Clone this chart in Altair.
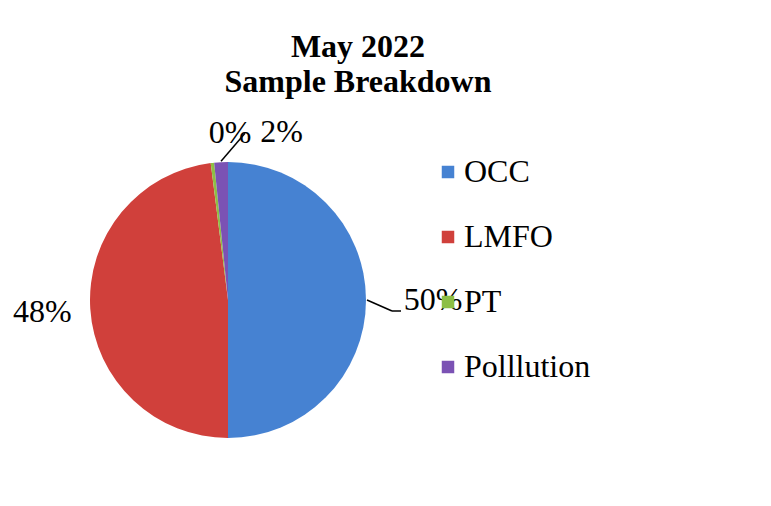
import altair as alt
import pandas as pd

categories = ["OCC", "LMFO", "PT", "Polllution"]
values = [50.0, 48.0, 0.4, 1.6]
colors = ["#4682d2", "#d0403b", "#8dbf45", "#7b52b4"]

df = pd.DataFrame({"category": categories, "value": values,
                   "idx": list(range(len(categories)))})

W = H = 300
R = 138
FONT = "Liberation Serif"

xs = alt.Scale(domain=[-W / 2, W / 2], range=[0, W])
ys = alt.Scale(domain=[-H / 2, H / 2], range=[H, 0])

base = alt.Chart(df).transform_joinaggregate(
    total="sum(value)"
).transform_window(
    cum="sum(value)", sort=[alt.SortField("idx")], frame=[None, 0]
).transform_calculate(
    mid="2*PI*(datum.cum - datum.value/2)/datum.total",
    pct="format(datum.value/datum.total, '.0%')",
)

pie = alt.Chart(df).mark_arc(outerRadius=R).encode(
    theta=alt.Theta("value:Q", stack=True),
    color=alt.Color(
        "category:N",
        scale=alt.Scale(domain=categories, range=colors),
        sort=categories,
        legend=alt.Legend(
            title=None, orient="none", legendX=354, legendY=6,
            symbolType="square", symbolSize=156, symbolStrokeWidth=0,
            labelFont=FONT, labelFontSize=32, labelColor="black",
            labelOffset=0, rowPadding=33, labelLimit=400,
        ),
    ),
    order=alt.Order("idx:Q"),
)

labels = base.transform_calculate(
    lr="datum.category=='OCC' ? 205 : datum.category=='LMFO' ? 186 : 168",
    ox="datum.category=='PT' ? 21 : datum.category=='Polllution' ? 62 : 0",
).transform_calculate(
    lx="datum.lr*sin(datum.mid) + datum.ox",
    ly="datum.lr*cos(datum.mid)",
).mark_text(font=FONT, fontSize=32, color="black", baseline="middle",
            align="center").encode(
    x=alt.X("lx:Q", scale=xs, axis=None),
    y=alt.Y("ly:Q", scale=ys, axis=None),
    text="pct:N",
)

lead1 = base.transform_filter(
    "datum.category=='OCC' || datum.category=='Polllution'"
).transform_calculate(
    x0=f"{R + 1}*sin(datum.mid)",
    y0=f"{R + 1}*cos(datum.mid)",
).transform_calculate(
    x1="datum.x0 + (datum.category=='OCC' ? 25 : 24)",
    y1="datum.y0 + (datum.category=='OCC' ? -11 : 28)",
).mark_rule(color="black", strokeWidth=1.5).encode(
    x=alt.X("x0:Q", scale=xs, axis=None),
    y=alt.Y("y0:Q", scale=ys, axis=None),
    x2="x1:Q",
    y2="y1:Q",
)

lead2 = base.transform_filter("datum.category=='OCC'").transform_calculate(
    x0=f"{R + 1}*sin(datum.mid) + 25",
    x1=f"{R + 1}*sin(datum.mid) + 34",
    y0=f"{R + 1}*cos(datum.mid) - 11",
).mark_rule(color="black", strokeWidth=1.5).encode(
    x=alt.X("x0:Q", scale=xs, axis=None),
    y=alt.Y("y0:Q", scale=ys, axis=None),
    x2="x1:Q",
)

chart = alt.layer(pie, lead1, lead2, labels).properties(
    width=W,
    height=H,
    background="white",
    title=alt.TitleParams(
        text=["May 2022", "Sample Breakdown"],
        font=FONT, fontSize=32, fontWeight="bold", color="black",
        anchor="middle", dx=130, dy=-13, lineHeight=35,
    ),
    autosize=alt.AutoSizeParams(type="none"),
    padding={"left": 70, "top": 142, "right": 385, "bottom": 48},
).configure_view(strokeWidth=0, stroke=None)

chart.save("out.html", embed_options={"renderer": "svg", "actions": False})
